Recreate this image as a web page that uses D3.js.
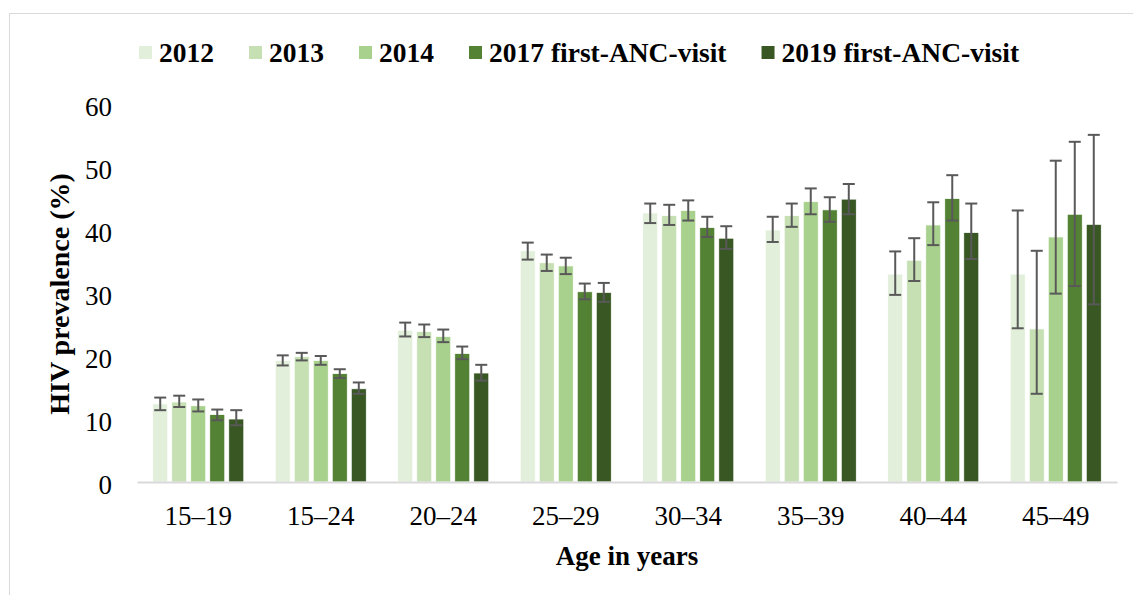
<!DOCTYPE html>
<html>
<head>
<meta charset="utf-8">
<script src="https://cdn.jsdelivr.net/npm/d3@7"></script>
<style>
  body { margin: 0; background: #fff; }
  svg { display: block; font-family: "Liberation Serif", "Times New Roman", serif; }
</style>
</head>
<body>
<svg id="chart" width="1133" height="595"></svg>
<script>
// Age groups on the x axis
const ageGroups = ["15–19", "15–24", "20–24", "25–29", "30–34", "35–39", "40–44", "45–49"];
const seriesNames = ["2012", "2013", "2014", "2017 first-ANC-visit", "2019 first-ANC-visit"];
const seriesColors = ["#e2efda", "#c6e0b4", "#a9d18e", "#548235", "#385723"];
const yTicks = [0, 10, 20, 30, 40, 50, 60];

// prevalence (%) per series, one value per age group
const prev2012 = [12.4, 19.3, 24.1, 36.7, 42.7, 40.0, 33.0, 33.0];
const prev2013 = [12.7, 19.9, 23.9, 34.8, 42.3, 42.3, 35.2, 24.3];
const prev2014 = [12.1, 19.3, 23.1, 34.3, 43.1, 44.5, 40.8, 38.9];
const prev2017 = [10.7, 17.2, 20.4, 30.2, 40.4, 43.2, 45.0, 42.5];
const prev2019 = [10.0, 14.8, 17.3, 30.1, 38.7, 44.9, 39.6, 40.9];

// 95% CI lower / upper bounds
const lo2012 = [11.4, 18.5, 23.1, 35.3, 41.1, 38.1, 29.7, 24.4];
const hi2012 = [13.4, 20.1, 25.3, 38.0, 44.2, 42.1, 36.6, 43.1];
const lo2013 = [11.9, 19.3, 23.0, 33.5, 40.8, 40.5, 31.9, 14.0];
const hi2013 = [13.7, 20.5, 25.0, 36.1, 44.0, 44.2, 38.7, 36.7];
const lo2014 = [11.2, 18.6, 22.2, 33.0, 41.5, 42.5, 37.6, 29.9];
const hi2014 = [13.1, 20.0, 24.2, 35.6, 44.7, 46.6, 44.4, 51.0];
const lo2017 = [9.8, 16.5, 19.5, 29.0, 38.9, 41.3, 41.5, 31.1];
const hi2017 = [11.5, 17.9, 21.5, 31.5, 42.1, 45.2, 48.7, 54.0];
const lo2019 = [9.0, 14.0, 16.1, 28.6, 37.0, 42.5, 35.4, 28.2];
const hi2019 = [11.4, 15.8, 18.6, 31.6, 40.6, 47.3, 44.2, 55.1];

const values = [prev2012, prev2013, prev2014, prev2017, prev2019];
const lows = [lo2012, lo2013, lo2014, lo2017, lo2019];
const highs = [hi2012, hi2013, hi2014, hi2017, hi2019];

// flat table for drawing
const rows = [];
ageGroups.forEach((g, gi) => {
    seriesNames.forEach((s, si) => {
        rows.push({ group: g, series: s, si: si, value: values[si][gi], lo: lows[si][gi], hi: highs[si][gi] });
    });
});

const svg = d3.select("#chart");

// outer frame like the original figure
svg.append("rect")
    .attr("x", 9.5).attr("y", 13.5)
    .attr("width", 1140).attr("height", 600)
    .attr("fill", "none")
    .attr("stroke", "#d9d9d9")
    .attr("stroke-width", 1);

const plot = { left: 137, right: 1117, top: 104, bottom: 482 };

const x0 = d3.scaleBand()
    .domain(ageGroups)
    .range([plot.left, plot.right])
    .paddingInner(0.224)
    .paddingOuter(0.112);

const x1 = d3.scaleBand()
    .domain(seriesNames)
    .range([0, x0.bandwidth()])
    .paddingInner(0.21)
    .paddingOuter(0.105);

const y = d3.scaleLinear()
    .domain([0, 60])
    .range([plot.bottom, plot.top]);

const color = d3.scaleOrdinal().domain(seriesNames).range(seriesColors);

// y axis (labels only)
const yAxis = svg.append("g")
    .attr("transform", `translate(${plot.left - 14},0)`)
    .call(d3.axisLeft(y).tickValues(yTicks).tickSize(0).tickPadding(0));
yAxis.select(".domain").remove();
yAxis.selectAll("text")
    .attr("font-family", "'Liberation Serif', 'Times New Roman', serif")
    .attr("font-size", 27)
    .attr("fill", "#000")
    .attr("x", -11)
    .attr("y", 2)
    .attr("dy", "0.35em");

// bars
svg.append("g")
    .selectAll("rect")
    .data(rows)
    .join("rect")
    .attr("x", d => x0(d.group) + x1(d.series))
    .attr("y", d => y(d.value))
    .attr("width", x1.bandwidth())
    .attr("height", d => y(0) - y(d.value))
    .attr("fill", d => color(d.series))
    .attr("stroke", "#fff")
    .attr("stroke-width", 0.75);

// x axis
const xAxis = svg.append("g")
    .attr("transform", `translate(0,${plot.bottom})`)
    .call(d3.axisBottom(x0).tickSize(0).tickSizeOuter(0));
xAxis.select(".domain")
    .attr("stroke", "#d9d9d9")
    .attr("stroke-width", 2);
xAxis.selectAll("text")
    .attr("font-family", "'Liberation Serif', 'Times New Roman', serif")
    .attr("font-size", 27)
    .attr("fill", "#000")
    .attr("y", 43)
    .attr("dy", 0);

// error bars
const capW = 6;
const err = svg.append("g")
    .attr("stroke", "#595959")
    .attr("stroke-width", 2)
    .attr("fill", "none");
rows.forEach(d => {
    const cx = x0(d.group) + x1(d.series) + x1.bandwidth() / 2;
    err.append("line").attr("x1", cx).attr("x2", cx).attr("y1", y(d.lo)).attr("y2", y(d.hi));
    err.append("line").attr("x1", cx - capW).attr("x2", cx + capW).attr("y1", y(d.lo)).attr("y2", y(d.lo));
    err.append("line").attr("x1", cx - capW).attr("x2", cx + capW).attr("y1", y(d.hi)).attr("y2", y(d.hi));
});

// axis titles
svg.append("text")
    .attr("x", (plot.left + plot.right) / 2)
    .attr("y", 565)
    .attr("text-anchor", "middle")
    .attr("font-size", 27)
    .attr("font-weight", "bold")
    .text("Age in years");

svg.append("text")
    .attr("transform", "translate(69,294) rotate(-90)")
    .attr("text-anchor", "middle")
    .attr("font-size", 28)
    .attr("font-weight", "bold")
    .text("HIV prevalence (%)");

// legend
const legend = svg.append("g");
let lx = 139;
seriesNames.forEach((s, i) => {
    const item = legend.append("g").attr("transform", `translate(${lx},0)`);
    item.append("rect")
        .attr("x", 0).attr("y", 46)
        .attr("width", 13).attr("height", 13)
        .attr("fill", seriesColors[i]);
    const t = item.append("text")
        .attr("x", 20).attr("y", 62)
        .attr("font-size", 27.5)
        .attr("font-weight", "bold")
        .text(s);
    lx += 20 + t.node().getComputedTextLength() + 35;
});
</script>
</body>
</html>
